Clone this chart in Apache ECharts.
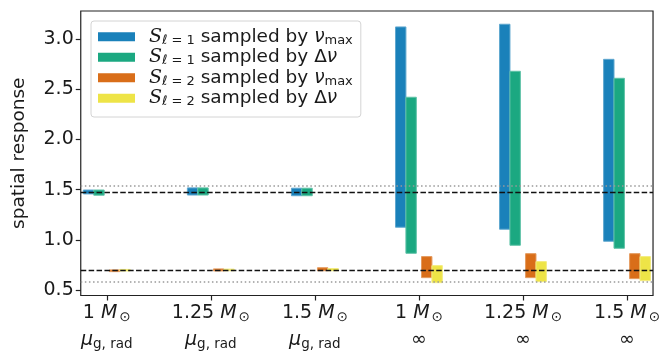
<!DOCTYPE html>
<html>
<head>
<meta charset="utf-8">
<script src="https://cdn.jsdelivr.net/npm/echarts@6/dist/echarts.min.js"></script>
<style>
  html, body { margin: 0; padding: 0; background: #fff; }
  #chart { width: 663px; height: 356px; }
</style>
</head>
<body>
<div id="chart"></div>
<script>
// Stellar models on the x axis: mass (first line) and coupling (second line)
const massLabels = ['1', '1.25', '1.5', '1', '1.25', '1.5'];
const couplingLabels = ['mu', 'mu', 'mu', 'inf', 'inf', 'inf'];

// Range [low, high] of the spatial response per model
const l1Numax = [[1.458, 1.497], [1.447, 1.518], [1.440, 1.515], [1.126, 3.123], [1.106, 3.150], [0.986, 2.800]];
const l1Dnu   = [[1.445, 1.497], [1.447, 1.518], [1.440, 1.515], [0.866, 2.422], [0.946, 2.681], [0.916, 2.611]];
const l2Numax = [[0.683, 0.700], [0.690, 0.710], [0.692, 0.722], [0.623, 0.833], [0.623, 0.862], [0.613, 0.862]];
const l2Dnu   = [[0.690, 0.705], [0.692, 0.708], [0.692, 0.714], [0.573, 0.743], [0.583, 0.783], [0.593, 0.833]];

// Reference levels
const refDashed = [1.47, 0.705];
const refDotted = [1.545, 0.583];

const yTicks = [0.5, 1.0, 1.5, 2.0, 2.5, 3.0];
const xTicks = [0, 1, 2, 3, 4, 5];

const FONT = 'DejaVu Sans';
const FS = 19;
const INK = '#1a1a1a';
const XL = 27; // line height of the two-line x labels

const seriesDefs = [
  { name: 'l1numax', data: l1Numax, offset: -0.175, fill: '#1a81ba', edge: '#5fa7cf' },
  { name: 'l1dnu',   data: l1Dnu,   offset: -0.075, fill: '#1ba881', edge: '#5fc2a7' },
  { name: 'l2numax', data: l2Numax, offset:  0.075, fill: '#d96e19', edge: '#e49a5e' },
  { name: 'l2dnu',   data: l2Dnu,   offset:  0.175, fill: '#eee447', edge: '#f3ec7e' }
];
const BAR_W = 0.1;

const legendText = {
  l1numax: '{s|S}{sub|ℓ = 1}{t| sampled by }{nu|ν}{sub|max}',
  l1dnu:   '{s|S}{sub|ℓ = 1}{t| sampled by Δ}{nu|ν}',
  l2numax: '{s|S}{sub|ℓ = 2}{t| sampled by }{nu|ν}{sub|max}',
  l2dnu:   '{s|S}{sub|ℓ = 2}{t| sampled by Δ}{nu|ν}'
};

function makeSeries(def, idx) {
  const s = {
    name: def.name,
    type: 'custom',
    color: def.fill,
    itemStyle: { color: def.fill },
    encode: { x: 0, y: [1, 2] },
    data: def.data.map((r, i) => [i, r[0], r[1]]),
    renderItem: function (params, api) {
      const x = api.value(0);
      const p0 = api.coord([x + def.offset - BAR_W / 2, api.value(2)]);
      const p1 = api.coord([x + def.offset + BAR_W / 2, api.value(1)]);
      return {
        type: 'rect',
        shape: { x: p0[0], y: p0[1], width: p1[0] - p0[0], height: p1[1] - p0[1] },
        style: { fill: def.fill, stroke: def.edge, lineWidth: 1 }
      };
    },
    z: 2
  };
  if (idx === seriesDefs.length - 1) {
    s.markLine = {
      silent: true,
      symbol: 'none',
      label: { show: false },
      animation: false,
      z: 10,
      data: refDashed.map(v => ({ yAxis: v, lineStyle: { type: [5.5, 2.4], color: '#111', width: 1.3 } }))
        .concat(refDotted.map(v => ({ yAxis: v, lineStyle: { type: [1.5, 2.6], color: '#999', width: 1.5 } })))
    };
  }
  return s;
}

function mainTok(extra) {
  return Object.assign({ fontFamily: FONT, fontSize: FS, lineHeight: XL, verticalAlign: 'middle', color: INK }, extra || {});
}
function subTok(extra) {
  // smaller text pushed down by its top padding
  return Object.assign({ fontFamily: FONT, fontSize: 13.5, lineHeight: XL, verticalAlign: 'middle', color: INK, padding: [9, 0, 0, 0] }, extra || {});
}

const chart = echarts.init(document.getElementById('chart'), null, { renderer: 'canvas' });
chart.setOption({
  animation: false,
  backgroundColor: '#fff',
  grid: {
    left: 80.75, right: 9, top: 11, bottom: 60.5,
    show: true, borderColor: '#222', borderWidth: 1.2, backgroundColor: 'transparent'
  },
  legend: {
    orient: 'vertical',
    left: 91, top: 21,
    icon: 'rect',
    itemWidth: 37, itemHeight: 9, itemGap: 0,
    padding: [5.5, 8, 8.5, 7],
    backgroundColor: 'rgba(255,255,255,0.8)',
    borderColor: '#d4d4d4', borderWidth: 1, borderRadius: 3,
    selectedMode: false,
    data: seriesDefs.map(d => d.name),
    formatter: name => legendText[name],
    textStyle: {
      fontFamily: FONT, fontSize: 18.5, color: INK, lineHeight: 20.5,
      padding: [0, 0, 0, 9],
      rich: {
        s: { fontFamily: 'DejaVu Serif', fontStyle: 'italic', fontSize: 19, lineHeight: 20.5, verticalAlign: 'middle', color: INK },
        t: { fontFamily: FONT, fontSize: 18.5, lineHeight: 20.5, verticalAlign: 'middle', color: INK },
        nu: { fontFamily: FONT, fontStyle: 'italic', fontSize: 18.5, lineHeight: 20.5, verticalAlign: 'middle', color: INK },
        sub: { fontFamily: FONT, fontSize: 13, lineHeight: 12, verticalAlign: 'bottom', color: INK }
      }
    }
  },
  xAxis: {
    type: 'value',
    min: -0.25, max: 5.25,
    splitLine: { show: false },
    axisLine: { show: false, onZero: false },
    axisTick: { show: true, customValues: xTicks, length: 5, lineStyle: { color: '#222', width: 1.2 } },
    axisLabel: {
      customValues: xTicks,
      margin: 4,
      color: INK,
      lineHeight: XL,
      fontFamily: FONT, fontSize: FS,
      formatter: function (v) {
        const i = Math.round(v);
        const top = '{n|' + massLabels[i] + ' }{m|M}{sun|⊙}';
        const bottom = couplingLabels[i] === 'mu' ? '{mu|μ}{sb|g, rad}' : '{inf|∞}';
        return top + '\n' + bottom;
      },
      rich: {
        n: mainTok(),
        m: mainTok({ fontStyle: 'italic' }),
        sun: subTok({ padding: [9, 0, 0, 2] }),
        mu: mainTok({ fontStyle: 'italic' }),
        sb: subTok(),
        inf: mainTok()
      }
    }
  },
  yAxis: {
    type: 'value',
    min: 0.445, max: 3.282,
    name: 'spatial response',
    nameLocation: 'middle',
    nameGap: 52,
    nameTextStyle: { fontFamily: FONT, fontSize: 18.5, color: INK },
    splitLine: { show: false },
    axisLine: { show: false, onZero: false },
    axisTick: { show: true, customValues: yTicks, length: 5, lineStyle: { color: '#222', width: 1.2 } },
    axisLabel: {
      customValues: yTicks,
      margin: 7,
      fontFamily: FONT, fontSize: FS, color: INK,
      formatter: v => v.toFixed(1)
    }
  },
  series: seriesDefs.map(makeSeries)
});
</script>
</body>
</html>
